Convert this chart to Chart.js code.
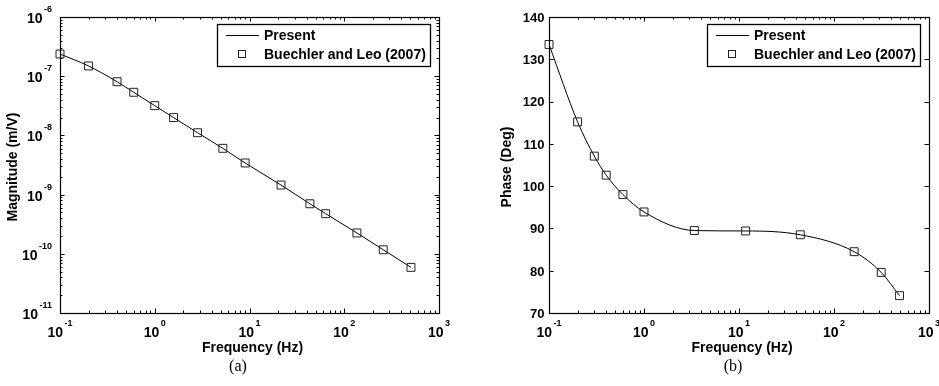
<!DOCTYPE html>
<html><head><meta charset="utf-8">
<script src="https://cdn.jsdelivr.net/npm/chart.js@4"></script>
<style>
html,body{margin:0;padding:0;background:#fff;width:939px;height:386px;overflow:hidden}
#a{position:absolute;left:0;top:0}
#b{position:absolute;left:470px;top:0}
</style></head><body>
<canvas id="a" width="470" height="386"></canvas>
<canvas id="b" width="469" height="386"></canvas>
<script>
// ---- data ----
const freqMag = [0.1, 0.2, 0.4, 0.6, 1.0, 1.58, 2.83, 5.23, 9.0, 21.5, 43.4, 63.7, 136, 258, 506];
const magnitude = [2.37e-7, 1.49e-7, 8.07e-8, 5.35e-8, 3.18e-8, 2.0e-8, 1.11e-8, 6.05e-9, 3.42e-9, 1.45e-9, 7.0e-10, 4.76e-10, 2.25e-10, 1.17e-10, 5.9e-11];
const freqPhase = [0.1, 0.2, 0.3, 0.4, 0.6, 1.0, 3.39, 11.75, 44.2, 163, 314, 490];
const phase = [133.5, 115.2, 107.1, 102.6, 98.0, 93.9, 89.5, 89.4, 88.5, 84.5, 79.6, 74.1];
const xTickExponents = [-1, 0, 1, 2, 3];
const magTickExponents = [-11, -10, -9, -8, -7, -6];
const phaseTicks = [70, 80, 90, 100, 110, 120, 130, 140];
const legendLabels = ['Present', 'Buechler and Leo (2007)'];
const xTitle = 'Frequency (Hz)';
const magTitle = 'Magnitude (m/V)';
const phaseTitle = 'Phase (Deg)';
const captions = ['(a)', '(b)'];

const BOLD = '"Liberation Sans", Arial, sans-serif';

function logTicks(exps) {
  const out = [];
  for (let i = 0; i < exps.length - 1; i++) {
    for (let m = 1; m < 10; m++) out.push({ v: m * Math.pow(10, exps[i]), major: m === 1 });
  }
  out.push({ v: Math.pow(10, exps[exps.length - 1]), major: true });
  return out;
}

function drawPow(ctx, x, baseline, exp, align) {
  ctx.font = 'bold 14px ' + BOLD;
  const w1 = ctx.measureText('10').width;
  const es = String(exp);
  ctx.font = 'bold 9px ' + BOLD;
  const w2 = ctx.measureText(es).width;
  const total = w1 + 1.5 + w2;
  let start = align === 'right' ? x - total : x - total / 2;
  ctx.textAlign = 'left';
  ctx.textBaseline = 'alphabetic';
  ctx.font = 'bold 14px ' + BOLD;
  ctx.fillText('10', start, baseline);
  ctx.font = 'bold 9px ' + BOLD;
  ctx.fillText(es, start + w1 + 1.5, baseline - 11);
}

function decorPlugin(cfg) {
  return {
    id: 'decor',
    afterDraw(chart) {
      const ctx = chart.ctx;
      const a = chart.chartArea;
      const xs = chart.scales.x, ys = chart.scales.y;
      ctx.save();
      ctx.strokeStyle = '#000';
      ctx.fillStyle = '#000';
      ctx.lineWidth = 1;
      // ticks (inward, all four sides)
      ctx.beginPath();
      logTicks(xTickExponents).forEach(t => {
        const px = Math.round(xs.getPixelForValue(t.v)) + 0.5;
        const len = t.major ? 4.5 : 2.5;
        ctx.moveTo(px, a.bottom); ctx.lineTo(px, a.bottom - len);
        ctx.moveTo(px, a.top); ctx.lineTo(px, a.top + len);
      });
      const yT = cfg.yLog ? logTicks(magTickExponents) : phaseTicks.map(v => ({ v, major: true }));
      yT.forEach(t => {
        const py = Math.round(ys.getPixelForValue(t.v)) + 0.5;
        const len = t.major ? 4.5 : 2.5;
        ctx.moveTo(a.left, py); ctx.lineTo(a.left + len, py);
        ctx.moveTo(a.right, py); ctx.lineTo(a.right - len, py);
      });
      ctx.stroke();
      // frame
      ctx.lineWidth = 1.2;
      ctx.strokeRect(Math.round(a.left) + 0.5, Math.round(a.top) + 0.5, Math.round(a.right - a.left), Math.round(a.bottom - a.top));
      // x tick labels
      xTickExponents.forEach(e => {
        drawPow(ctx, xs.getPixelForValue(Math.pow(10, e)), 336.5, e, 'center');
      });
      // y tick labels
      if (cfg.yLog) {
        magTickExponents.forEach(e => {
          drawPow(ctx, a.left - 8, ys.getPixelForValue(Math.pow(10, e)) + 6, e, 'right');
        });
      } else {
        ctx.font = 'bold 13px ' + BOLD;
        ctx.textAlign = 'right';
        ctx.textBaseline = 'alphabetic';
        phaseTicks.forEach(v => {
          ctx.fillText(String(v), a.left - 4.5, ys.getPixelForValue(v) + 4.8);
        });
      }
      // axis titles
      ctx.font = 'bold 14px ' + BOLD;
      ctx.textAlign = 'center';
      ctx.textBaseline = 'alphabetic';
      ctx.fillText(xTitle, (a.left + a.right) / 2 + 3, 352);
      ctx.save();
      ctx.translate(cfg.yTitleX, (a.top + a.bottom) / 2 + 2);
      ctx.rotate(-Math.PI / 2);
      ctx.fillText(cfg.yTitle, 0, 0);
      ctx.restore();
      // legend
      const L = cfg.legendLeft, T = 24, R = cfg.legendRight, B = 66;
      ctx.fillStyle = '#fff';
      ctx.fillRect(L, T, R - L, B - T);
      ctx.fillStyle = '#000';
      ctx.lineWidth = 1.3;
      ctx.strokeRect(L + 0.5, T + 0.5, R - L, B - T);
      ctx.lineWidth = 1;
      ctx.beginPath();
      ctx.moveTo(L + 9, 35.5); ctx.lineTo(L + 42, 35.5);
      ctx.stroke();
      ctx.strokeStyle = '#222';
      ctx.strokeRect(L + 21.5, 50.5, 7, 7);
      ctx.font = 'bold 14px ' + BOLD;
      ctx.textAlign = 'left';
      ctx.textBaseline = 'middle';
      ctx.fillText(legendLabels[0], L + 47, 36);
      ctx.fillText(legendLabels[1], L + 47, 55);
      // caption
      ctx.font = '16px "Liberation Serif", "Times New Roman", serif';
      ctx.textAlign = 'center';
      ctx.textBaseline = 'alphabetic';
      ctx.fillText(cfg.caption, cfg.captionX, 371);
      ctx.restore();
    }
  };
}

function makeChart(id, xs, ys, yScale, padding, cfg) {
  const pts = xs.map((x, i) => ({ x, y: ys[i] }));
  return new Chart(document.getElementById(id), {
    type: 'line',
    data: {
      datasets: [
        {
          label: legendLabels[0], data: pts, borderColor: '#000', borderWidth: 1,
          pointRadius: 0, fill: false, cubicInterpolationMode: 'monotone', order: 2
        },
        {
          label: legendLabels[1], data: pts, showLine: false, borderColor: '#222',
          backgroundColor: 'rgba(0,0,0,0)', pointStyle: 'rect', pointRadius: 5.6,
          pointBorderWidth: 1, clip: false, order: 1
        }
      ]
    },
    options: {
      responsive: false, animation: false, devicePixelRatio: 1,
      layout: { padding },
      plugins: { legend: { display: false }, tooltip: { enabled: false } },
      scales: {
        x: {
          type: 'logarithmic', min: 0.1, max: 1000, display: false,
          ticks: { display: false }, grid: { display: false, drawTicks: false }, border: { display: false }
        },
        y: Object.assign({ display: false, ticks: { display: false }, grid: { display: false, drawTicks: false }, border: { display: false } }, yScale)
      }
    },
    plugins: [decorPlugin(cfg)]
  });
}

makeChart('a', freqMag, magnitude,
  { type: 'logarithmic', min: 1e-11, max: 1e-6 },
  { left: 60, right: 31, top: 17, bottom: 73 },
  { yLog: true, yTitle: magTitle, yTitleX: 17, legendLeft: 217, legendRight: 430, caption: captions[0], captionX: 238 });

makeChart('b', freqPhase, phase,
  { type: 'linear', min: 70, max: 140 },
  { left: 79, right: 10, top: 17, bottom: 73 },
  { yLog: false, yTitle: phaseTitle, yTitleX: 41, legendLeft: 237, legendRight: 450, caption: captions[1], captionX: 263 });
</script>
</body></html>
